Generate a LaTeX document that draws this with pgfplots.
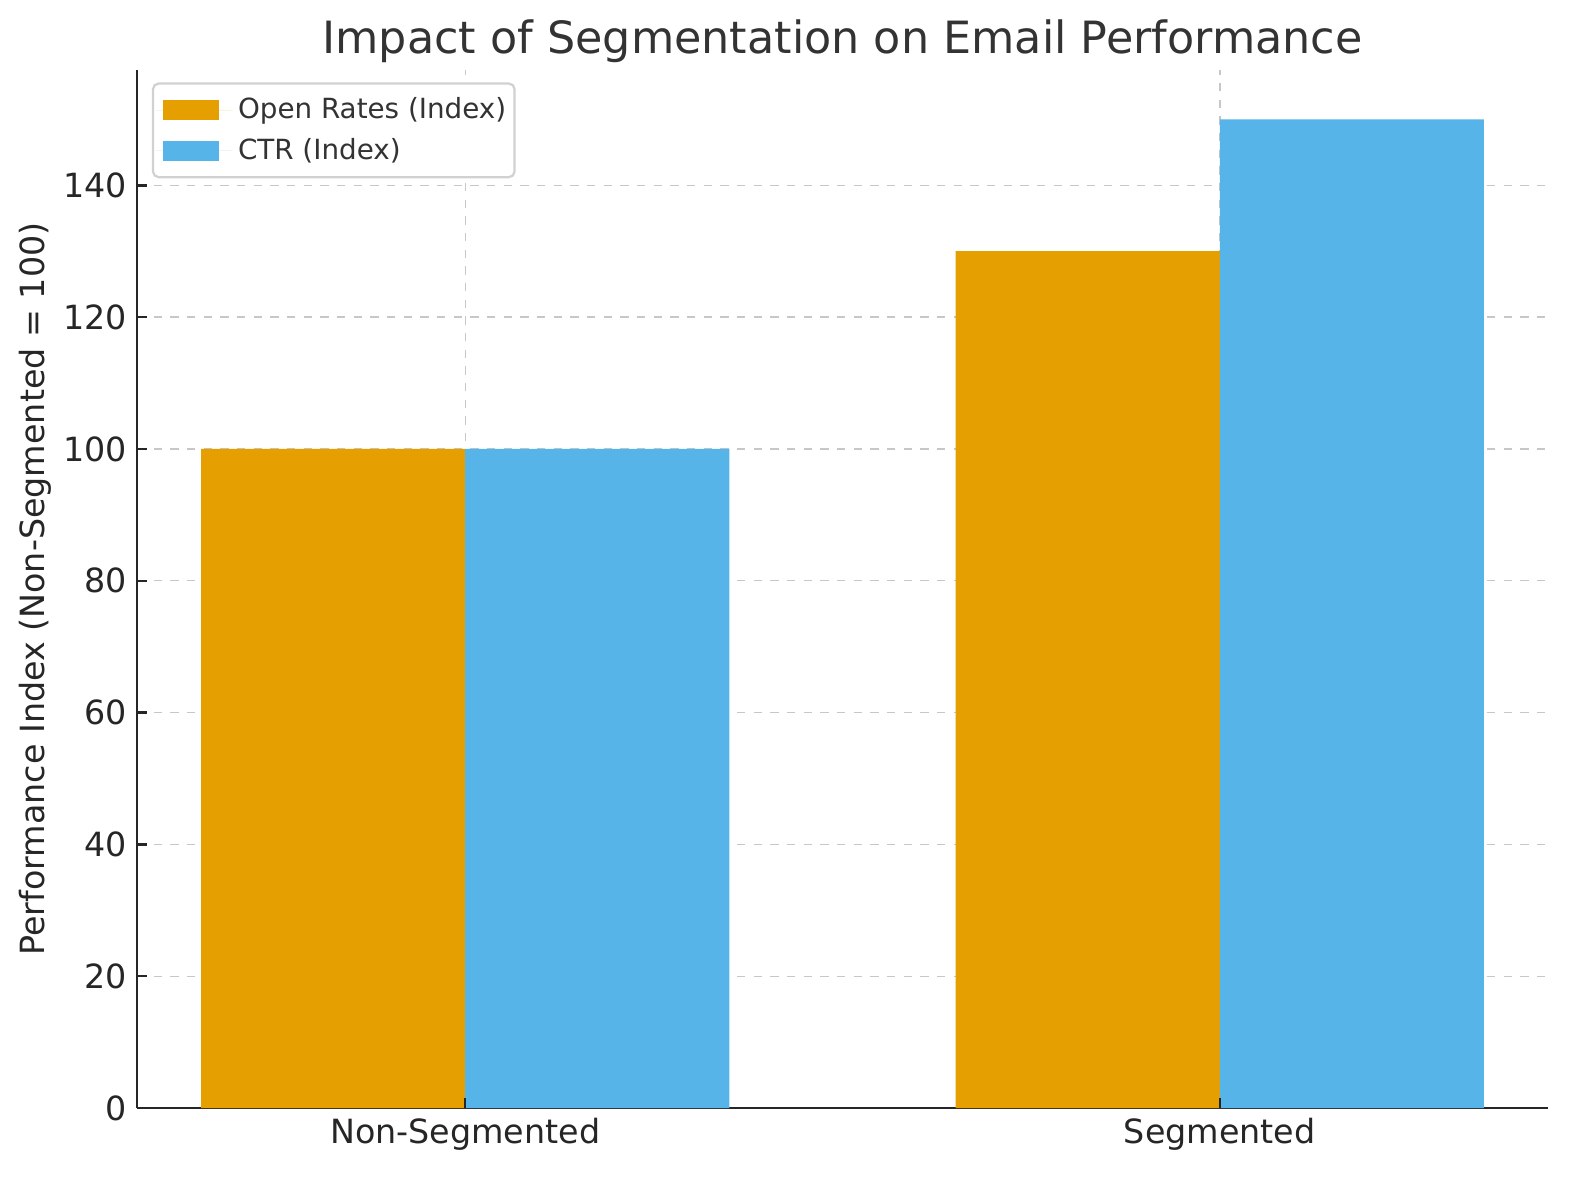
\documentclass[border=0pt]{standalone}
\usepackage{fontspec}
\setmainfont{DejaVu Sans}
\usepackage{pgfplots}
\pgfplotsset{compat=1.18}
\usepackage{pgfplotstable}

\definecolor{openc}{HTML}{E69F00}
\definecolor{ctrc}{HTML}{56B4E9}
\definecolor{txt}{HTML}{262626}

\pgfplotstableread{
x open ctr
0 100 100
1 130 150
}\emaildata

\begin{document}
\begin{tikzpicture}
\useasboundingbox (0,0) rectangle (568.8pt,424.8pt);
\begin{axis}[
  at={(49.3pt,25.9pt)}, anchor=south west,
  scale only axis,
  width=508pt, height=373.7pt,
  xmin=-0.435, xmax=1.435,
  ymin=0, ymax=157.5,
  xtick={0,1},
  xticklabels={Non-Segmented,Segmented},
  ytick={0,20,...,140},
  axis x line*=bottom,
  axis y line*=left,
  axis line style={-,line width=0.9pt,color=black!85},
  tick align=inside,
  major tick length=3.5pt,
  tick style={line width=0.9pt,color=black!85},
  ticklabel style={font=\fontsize{12}{14}\selectfont,text=txt},
  /pgf/number format/assume math mode=true,
  grid=major,
  major grid style={dashed,line width=0.5pt,color=black!22},
  title={Impact of Segmentation on Email Performance},
  title style={font=\fontsize{16}{19}\selectfont,text=black!80,at={(axis description cs:0.5,1)},anchor=base},
  ylabel={Performance Index (Non-Segmented = 100)},
  ylabel style={font=\fontsize{12}{14}\selectfont,text=txt,at={(axis description cs:-0.0723,0.5)},anchor=center},
  legend style={at={(axis description cs:0.0106,0.988)},anchor=north west,
    font=\fontsize{10}{12}\selectfont,text=black!80,draw=black!18,line width=0.8pt,
    rounded corners=2pt,inner xsep=1pt,inner ysep=3pt,row sep=1.5pt},
  legend cell align=left,
  legend image code/.code={\fill[#1,sharp corners] (2.6pt,-3.6pt) rectangle (22.6pt,3.6pt);
    \path (0pt,0pt) -- (27.6pt,0pt);},
]
\addplot[ybar,bar width=0.35,bar shift=-0.175,fill=openc,draw=none] table[x=x,y=open]{\emaildata};
\addlegendentry{Open Rates (Index)}
\addplot[ybar,bar width=0.35,bar shift=0.175,fill=ctrc,draw=none] table[x=x,y=ctr]{\emaildata};
\addlegendentry{CTR (Index)}
% x ticks sit on top of the bars
\draw[black!85,line width=0.9pt] (axis cs:0,0) -- ([yshift=3.5pt]axis cs:0,0);
\draw[black!85,line width=0.9pt] (axis cs:1,0) -- ([yshift=3.5pt]axis cs:1,0);
\end{axis}
\end{tikzpicture}
\end{document}
